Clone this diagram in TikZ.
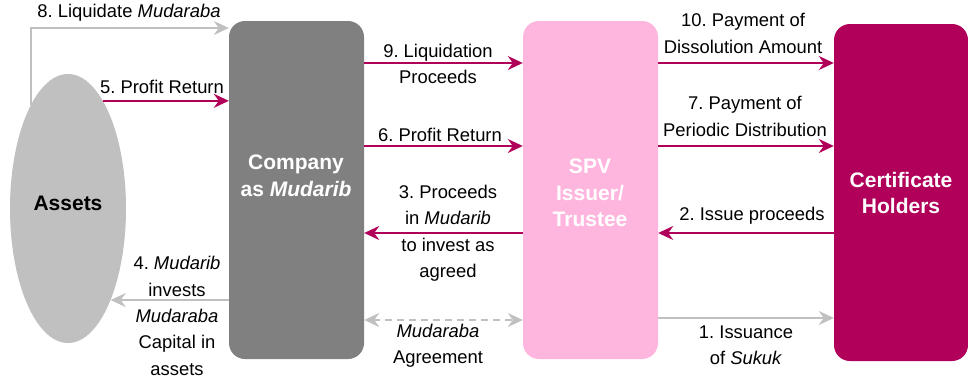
\documentclass[tikz,border=0pt]{standalone}
\usepackage{fontspec}
\setmainfont{Liberation Sans}
\usetikzlibrary{arrows.meta,shapes.geometric}
\definecolor{mag}{HTML}{B0005A}
\definecolor{pinkbox}{HTML}{FFB6DE}
\definecolor{graybox}{HTML}{808080}
\definecolor{lgray}{HTML}{C0C0C0}
\frenchspacing
\begin{document}
\begin{tikzpicture}[x=1pt,y=-1pt,
  box/.style={rectangle, rounded corners=16pt, minimum width=135pt, minimum height=338pt, inner sep=0pt},
  boxtext/.style={font=\fontsize{21}{26.5}\selectfont\bfseries, text=white, align=center, inner sep=0pt},
  lbl/.style={font=\fontsize{18.4}{26.5}\selectfont, align=center, inner sep=0pt},
  magarrow/.style={draw=mag, line width=2pt, -{Stealth[length=15pt,width=14pt,inset=5pt]}},
  grayarrow/.style={draw=lgray, line width=2pt, -{Stealth[length=15pt,width=14pt,inset=5pt]}},
  grayboth/.style={draw=lgray, line width=2pt, dash pattern=on 7pt off 5pt, {Stealth[length=15pt,width=14pt,inset=5pt]}-{Stealth[length=15pt,width=14pt,inset=5pt]}}
]
\useasboundingbox (0,0) rectangle (968,378);
\fill[white] (0,0) rectangle (968,378);

% level coordinates
\coordinate (y28) at (0,28);
\coordinate (y63) at (0,63);
\coordinate (y146) at (0,146);
\coordinate (y233) at (0,233);
\coordinate (y320) at (0,320);
\coordinate (y318) at (0,318);

% boxes
\node[box, fill=graybox] (company) at (296.5,190) {};
\node[box, fill=pinkbox] (spv) at (590.5,190) {};
\node[box, fill=mag, minimum width=134pt, minimum height=337pt] (ch) at (901,192.5) {};
\node[ellipse, fill=lgray, minimum width=116pt, minimum height=269pt, inner sep=0pt] (assets) at (68,208.5) {};

\node[boxtext] (companytext) at (296,176) {Company\\as \textit{Mudarib}};
\node[boxtext] (spvtext) at (590,193) {SPV\\Issuer/\\Trustee};
\node[boxtext] (chtext) at (901,193) {Certificate\\Holders};
\node[boxtext, text=black] (assetstext) at (68,203) {Assets};

% connectors left
\draw[grayarrow] (assets.110) -- (assets.110 |- y28) -- (company.west |- y28);
\draw[magarrow] (assets.72.5) -- (company.west |- assets.72.5);
\draw[grayarrow] (company.west |- assets.-65) -- (assets.-65);

% connectors middle
\draw[magarrow] (company.east |- y63) -- (spv.west |- y63);
\draw[magarrow] (company.east |- y146) -- (spv.west |- y146);
\draw[magarrow] (spv.west |- y233) -- (company.east |- y233);
\draw[grayboth] (company.east |- y320) -- (spv.west |- y320);

% connectors right
\draw[magarrow] (spv.east |- y63) -- (ch.west |- y63);
\draw[magarrow] (spv.east |- y146) -- (ch.west |- y146);
\draw[magarrow] (ch.west |- y233) -- (spv.east |- y233);
\draw[grayarrow] (spv.east |- y318) -- (ch.west |- y318);

% labels
\node[lbl] (l8) at (129,13) {8. Liquidate \textit{Mudaraba}};
\node[lbl] (l5) at (162,87) {5. Profit Return};
\node[lbl] (l4a) at (177,276.5) {4. \textit{Mudarib}\\invests};
\node[lbl] (l4b) at (177,342) {\textit{Mudaraba}\\Capital in\\assets};
\node[lbl] (l9) at (438,64) {9. Liquidation\\Proceeds};
\node[lbl] (l6) at (440,135) {6. Profit Return};
\node[lbl] (l3) at (448,233) {3. Proceeds\\in \textit{Mudarib}\\to invest as\\agreed};
\node[lbl] (lag) at (438,345.5) {\textit{Mudaraba}\\Agreement};
\node[lbl] (l10) at (743,33.5) {10. Payment of\\Dissolution Amount};
\node[lbl] (l7) at (745,116.5) {7. Payment of\\Periodic Distribution};
\node[lbl] (l2) at (752,216) {2. Issue proceeds};
\node[lbl] (l1) at (746,345.5) {1. Issuance\\of \textit{Sukuk}};
\end{tikzpicture}
\end{document}
